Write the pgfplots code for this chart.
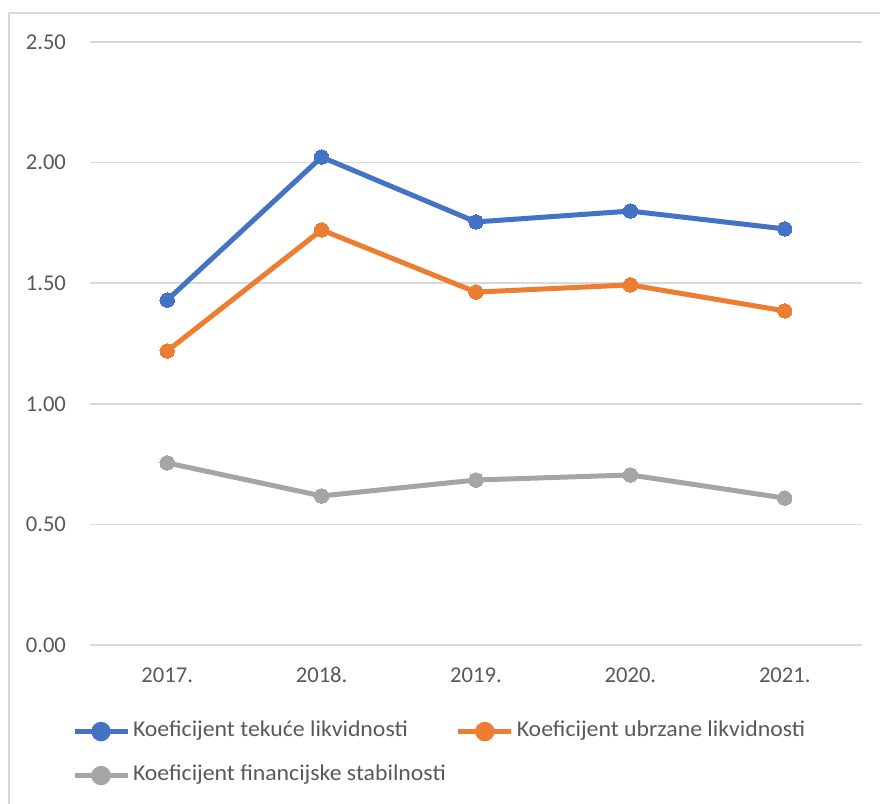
\documentclass[border=0pt]{standalone}
\usepackage{pgfplots}
\pgfplotsset{compat=1.18}
\usepackage{fontspec}
\setmainfont{Carlito}
\newfontfamily\legfont[FakeStretch=1.052]{Carlito}
\definecolor{cblue}{HTML}{4472C4}
\definecolor{corange}{HTML}{ED7D31}
\definecolor{cgray}{HTML}{A5A5A5}
\definecolor{cgrid}{HTML}{D9D9D9}
\definecolor{ctext}{HTML}{595959}
\begin{document}
\begin{tikzpicture}[x=0.5pt,y=0.5pt]
\useasboundingbox (0,0) rectangle (880,804);
\fill[white] (0,0) rectangle (880,804);
\draw[cgrid,line width=1.2pt] (9,0) -- (9,791) -- (880,791);
\begin{axis}[
  at={(45pt,79.5pt)}, anchor=south west,
  scale only axis, width=386pt, height=301.5pt,
  xmin=-0.5, xmax=4.5, ymin=0, ymax=2.5,
  xtick={0,1,2,3,4},
  xticklabels={2017.,2018.,2019.,2020.,2021.},
  ytick={0,0.5,1,1.5,2,2.5},
  yticklabel style={/pgf/number format/.cd,fixed,fixed zerofill,precision=2,/tikz/.cd},
  /pgf/number format/assume math mode=true,
  ymajorgrids, grid style={cgrid,line width=0.8pt},
  axis line style={draw=none},
  major tick length=0pt,
  tick label style={font=\fontsize{11.3}{13}\selectfont, text=ctext},
  yticklabel style={xshift=-8.5pt},
  xticklabel style={yshift=-7pt, text height=8pt, text depth=2pt},
  clip=false,
  legend columns=2,
  legend cell align=left,
  legend style={at={(-0.0233,-0.127)}, anchor=north west, draw=none, fill=none,
    inner sep=0pt, outer sep=0pt, font=\legfont\fontsize{11.3}{13}\selectfont, text=ctext,
    nodes={inner sep=0pt, outer sep=0pt, text height=7.5pt, text depth=2.5pt, anchor=west},
    row sep=12pt,
    /tikz/every even column/.append style={column sep=5pt},
    /tikz/every odd column/.append style={column sep=1.5pt}},
  legend image code/.code={
    \draw[line width=2.5pt] (0pt,0pt) -- (26.5pt,0pt);
    \fill (13.25pt,0pt) circle (3.6pt);
  },
  every axis plot/.append style={line width=2.5pt, mark=*, mark size=3.6pt},
]
\addplot[cblue, mark options={fill=cblue, draw=cblue, line width=0pt}] coordinates {(0,1.430) (1,2.023) (2,1.754) (3,1.799) (4,1.725)};
\addlegendentry{Koeficijent tekuće likvidnosti}
\addplot[corange, mark options={fill=corange, draw=corange, line width=0pt}] coordinates {(0,1.219) (1,1.721) (2,1.463) (3,1.493) (4,1.385)};
\addlegendentry{Koeficijent ubrzane likvidnosti}
\addplot[cgray, mark options={fill=cgray, draw=cgray, line width=0pt}] coordinates {(0,0.755) (1,0.618) (2,0.684) (3,0.705) (4,0.609)};
\addlegendentry{Koeficijent financijske stabilnosti}
\end{axis}
\end{tikzpicture}
\end{document}
